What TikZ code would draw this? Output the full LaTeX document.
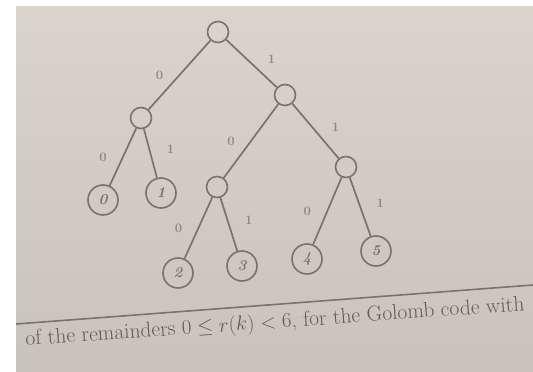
\documentclass[tikz,border=0pt]{standalone}
\usetikzlibrary{calc}
\definecolor{paperT}{HTML}{D9D4CC}
\definecolor{paperB}{HTML}{C9C3BA}
\definecolor{ink}{HTML}{7A736C}
\definecolor{inkL}{HTML}{8E877F}
\begin{document}
\begin{tikzpicture}[x=1pt,y=-1pt,
  inner/.style={circle,draw=ink,line width=1.6pt,minimum size=21pt,inner sep=0pt},
  leaf/.style={circle,draw=ink,line width=1.6pt,minimum size=30pt,inner sep=0pt,text=ink,font=\fontsize{15}{15}\selectfont\itshape\bfseries},
  edge/.style={draw=ink,line width=1.7pt},
  lblL/.style={midway,xshift=-20pt,text=inkL,font=\fontsize{13}{13}\selectfont\bfseries},
  lblR/.style={midway,xshift=20pt,yshift=4pt,text=inkL,font=\fontsize{13}{13}\selectfont\bfseries}]
\useasboundingbox (0,0) rectangle (533,372);
\fill[white] (0,0) rectangle (533,372);
\shade[top color=paperT,bottom color=paperB] (16,6) rectangle (533,372);
% tree
\node[inner] (r) at (218,32) {};
\node[inner] (a) at (141,118) {};
\node[inner] (b) at (285,95) {};
\node[inner] (c) at (217,187) {};
\node[inner] (d) at (346,167) {};
\node[leaf] (l0) at (103,200) {0};
\node[leaf] (l1) at (161,193) {1};
\node[leaf] (l2) at (178,273) {2};
\node[leaf] (l3) at (242,266) {3};
\node[leaf] (l4) at (307,259) {4};
\node[leaf] (l5) at (376,251) {5};
\path[edge] (r) -- (a) node[lblL] {0};
\path[edge] (r) -- (b) node[lblR] {1};
\path[edge] (a) -- (l0) node[lblL] {0};
\path[edge] (a) -- (l1) node[lblR] {1};
\path[edge] (b) -- (c) node[lblL] {0};
\path[edge] (b) -- (d) node[lblR] {1};
\path[edge] (c) -- (l2) node[lblL] {0};
\path[edge] (c) -- (l3) node[lblR] {1};
\path[edge] (d) -- (l4) node[lblL] {0};
\path[edge] (d) -- (l5) node[lblR] {1};
% page rule and caption
\coordinate (ruleA) at (16,324);
\coordinate (ruleB) at (533,285);
\draw[ink,line width=1.6pt] (ruleA) -- (ruleB);
\node[rotate=4,text=ink!80!black,font=\fontsize{21.5}{26}\selectfont,inner sep=0pt] (cap) at (275,323)
  {of the remainders $0\le r(k)<6$, for the Golomb code with};
\end{tikzpicture}
\end{document}
